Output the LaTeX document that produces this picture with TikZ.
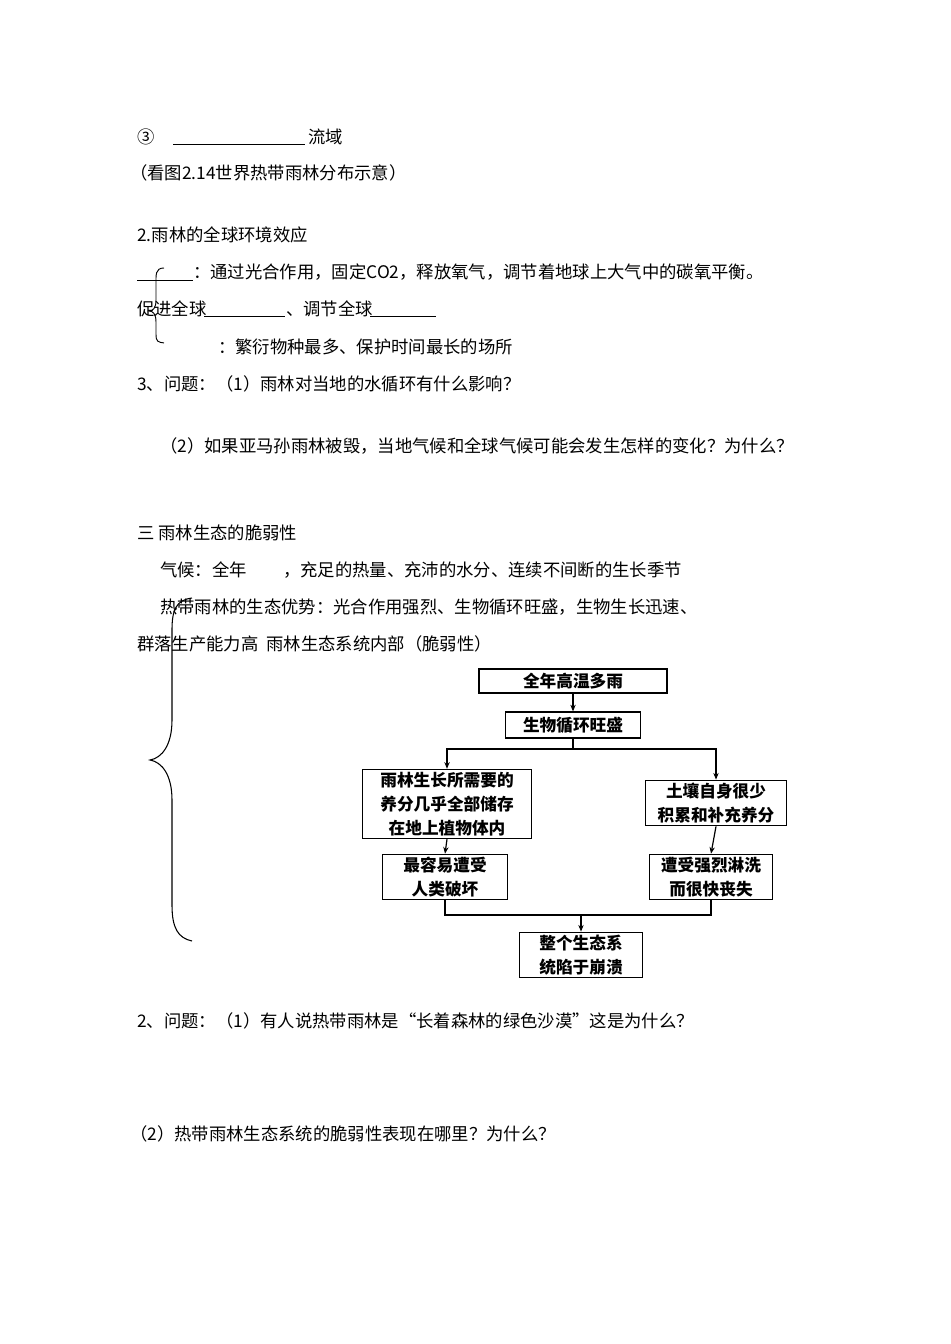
\documentclass[tikz,border=0pt]{standalone}
\usepackage{fontspec}
\setmainfont{Noto Sans CJK SC}
\usetikzlibrary{arrows.meta}
\begin{document}
\begin{tikzpicture}[x=0.75pt,y=-0.75pt,
  txt/.style={anchor=west,inner sep=0pt,font=\fontsize{13pt}{15pt}\selectfont},
  fbox/.style={draw,line width=0.9pt,align=center,inner sep=2pt,font=\fontsize{12.5pt}{18pt}\selectfont\bfseries},
  ln/.style={line width=0.9pt},
  arr/.style={ln,-{Stealth[length=5pt,width=4pt]}},
  blank/.style={line width=0.6pt}]
\useasboundingbox (0,0) rectangle (950,1344);
% top text
\node[txt] (t1) at (137,137) {③};
\draw[blank] (173,144) -- (305,144);
\node[txt] (t1b) at (308,137) {流域};
\node[txt] (t2) at (130,173) {（看图2.14世界热带雨林分布示意）};
\node[txt] (t3) at (137,235) {2.雨林的全球环境效应};
\draw[blank] (137,280) -- (193,280);
\node[txt] (t4) at (193,272) {：通过光合作用，固定CO2，释放氧气，调节着地球上大气中的碳氧平衡。};
\node[txt] (t5) at (137,309) {促进全球};
\draw[blank] (204,316) -- (285,316);
\node[txt] (t5b) at (286,309) {、调节全球};
\draw[blank] (370,316) -- (436,316);
\draw[line width=0.7pt] (164,268) .. controls (155,268) and (156,275) .. (156,285) -- (156,300) .. controls (156,308) and (153,311) .. (149,311) .. controls (153,311) and (156,314) .. (156,322) -- (156,334) .. controls (156,342) and (158,342) .. (164,343);
\node[txt] (t6) at (218,347) {：繁衍物种最多、保护时间最长的场所};
\node[txt] (t7) at (137,384) {3、问题：（1）雨林对当地的水循环有什么影响？};
\node[txt] (t8) at (160,446) {（2）如果亚马孙雨林被毁，当地气候和全球气候可能会发生怎样的变化？为什么？};
\node[txt] (t9) at (137,533) {三\ 雨林生态的脆弱性};
\node[txt] (t10) at (160,570) {气候：全年};
\node[txt] (t10b) at (283,570) {，充足的热量、充沛的水分、连续不间断的生长季节};
\node[txt] (t11) at (160,607) {热带雨林的生态优势：光合作用强烈、生物循环旺盛，生物生长迅速、};
\node[txt] (t12) at (137,644) {群落生产能力高\ \ 雨林生态系统内部（脆弱性）};
% big brace
\draw[line width=0.8pt] (192,598) .. controls (176,600) and (172,610) .. (172,630) -- (172,720) .. controls (172,745) and (162,758) .. (150,760) .. controls (162,762) and (172,775) .. (172,800) -- (172,905) .. controls (172,928) and (178,938) .. (192,941);
% flowchart
\node[fbox,minimum width=141pt*0.75/0.75,minimum height=24*0.75pt] (b1) at (573,681) {全年高温多雨};
\node[fbox,minimum height=26*0.75pt,text width=130*0.75pt] (b2) at (573,725) {生物循环旺盛};
\node[fbox,text width=164*0.75pt,minimum height=62*0.75pt] (a) at (447,804) {雨林生长所需要的\\养分几乎全部储存\\在地上植物体内};
\node[fbox,text width=135*0.75pt,minimum height=40*0.75pt] (b) at (716,803) {土壤自身很少\\积累和补充养分};
\node[fbox,text width=120*0.75pt,minimum height=40*0.75pt] (c) at (445,877) {最容易遭受\\人类破坏};
\node[fbox,text width=117*0.75pt,minimum height=40*0.75pt] (d) at (711,877) {遭受强烈淋洗\\而很快丧失};
\node[fbox,text width=118*0.75pt,minimum height=40*0.75pt] (e) at (581,955) {整个生态系\\统陷于崩溃};
\draw[arr] (b1) -- (b2);
\coordinate (sp) at (573,749);
\draw[ln] (b2.south) -- (sp);
\draw[arr] (sp) -| (a.north);
\draw[arr] (sp) -| (b.north);
\draw[arr] (a.south) -- (c.north);
\draw[arr] (b.south) -- (d.north);
\coordinate (mg) at (581,915);
\draw[ln] (c.south) |- (mg);
\draw[ln] (d.south) |- (mg);
\draw[arr] (mg) -- (e.north);
\node[txt] (t13) at (137,1021) {2、问题：（1）有人说热带雨林是“长着森林的绿色沙漠”这是为什么？};
\node[txt] (t14) at (130,1134) {（2）热带雨林生态系统的脆弱性表现在哪里？为什么？};
\end{tikzpicture}
\end{document}
